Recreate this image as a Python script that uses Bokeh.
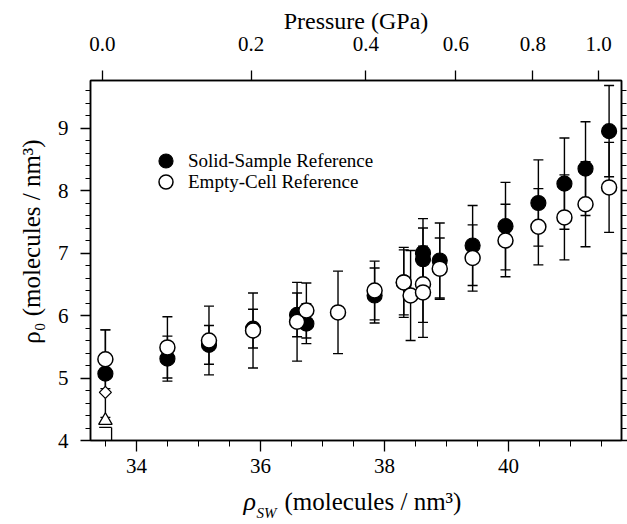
import math
from bokeh.plotting import figure
from bokeh.models import (ColumnDataSource, Whisker, TeeHead, LinearAxis, FixedTicker,
                          SingleIntervalTicker, Range1d, Legend, LegendItem, Label)
from bokeh.embed import file_html
from bokeh.resources import INLINE

# ---------------- data ----------------
solid_rho = [33.50, 34.50, 35.17, 35.88, 36.59, 36.74, 37.84, 38.31, 38.62, 38.62,
             38.89, 39.42, 39.95, 40.48, 40.90, 41.24, 41.62]
solid_rho0 = [5.07, 5.31, 5.53, 5.79, 6.01, 5.87, 6.32, 6.53, 7.00, 6.90,
              6.88, 7.12, 7.43, 7.80, 8.11, 8.35, 8.95]
solid_err = [0.70, 0.36, 0.31, 0.31, 0.35, 0.32, 0.44, 0.52, 0.55, 0.50,
             0.60, 0.64, 0.70, 0.69, 0.73, 0.75, 0.73]

empty_rho = [33.50, 34.50, 35.17, 35.88, 36.59, 36.74, 37.25, 37.84, 38.31, 38.42,
             38.62, 38.62, 38.89, 39.42, 39.95, 40.48, 40.90, 41.24, 41.62]
empty_rho0 = [5.30, 5.49, 5.60, 5.76, 5.90, 6.08, 6.05, 6.40, 6.53, 6.32,
              6.50, 6.37, 6.75, 6.92, 7.20, 7.42, 7.57, 7.78, 8.05]
empty_err = [0.47, 0.49, 0.55, 0.60, 0.63, 0.44, 0.66, 0.47, 0.56, 0.72,
             0.61, 0.72, 0.49, 0.53, 0.58, 0.61, 0.68, 0.68, 0.72]

ambient_rho = [33.50, 33.50]
ambient_rho0 = [4.77, 4.32]
ambient_low = [4.21]

pressure_gpa_labels = ["0.0", "0.2", "0.4", "0.6", "0.8", "1.0"]
pressure_rho_ticks = [33.45, 35.85, 37.70, 39.15, 40.39, 41.45]

# ---------------- geometry ----------------
W, H = 627, 524
FL, FR, FT, FB = 90, 621, 80, 440   # frame edges in canvas px
X0, X1 = 33.26, 41.82
Y0, Y1 = 4.0, 9.76


def dx(px):
    return X0 + (px - FL) * (X1 - X0) / (FR - FL)


def dy(py):
    return Y0 + (FB - py) * (Y1 - Y0) / (FB - FT)


FONT = "Liberation Serif"

p = figure(width=W, height=H, output_backend="svg", toolbar_location=None,
           x_range=Range1d(X0, X1), y_range=Range1d(Y0, Y1))
p.min_border_left = FL
p.min_border_right = W - FR
p.min_border_top = FT
p.min_border_bottom = H - FB
p.xgrid.visible = False
p.ygrid.visible = False
p.outline_line_color = "black"
p.outline_line_width = 1.5
p.background_fill_color = "white"
p.border_fill_color = "white"

p.title.text = "Pressure (GPa)"
p.title.align = "center"
p.title.text_font = FONT
p.title.text_font_size = "24px"
p.title.text_font_style = "normal"
p.title.text_color = "black"
p.title.standoff = 0


def style_axis(ax, tick_out, minor_out, standoff, fs="21px"):
    ax.axis_line_color = "black"
    ax.axis_line_width = 1.5
    ax.major_tick_in = 0
    ax.major_tick_out = tick_out
    ax.minor_tick_in = 0
    ax.minor_tick_out = minor_out
    ax.major_tick_line_color = "black"
    ax.minor_tick_line_color = "black"
    ax.major_tick_line_width = 1.3
    ax.minor_tick_line_width = 1.0
    ax.major_label_text_font = FONT
    ax.major_label_text_font_size = fs
    ax.major_label_text_color = "black"
    ax.major_label_standoff = standoff


xa = p.xaxis[0]
xa.ticker = SingleIntervalTicker(interval=2, num_minor_ticks=4)
style_axis(xa, 11, 6, 7)

ya = p.yaxis[0]
ya.ticker = SingleIntervalTicker(interval=1, num_minor_ticks=5)
style_axis(ya, 10, 5, 12)

ra = LinearAxis(ticker=SingleIntervalTicker(interval=1, num_minor_ticks=5))
style_axis(ra, 6, 5, 0, fs="0px")
p.add_layout(ra, "right")

ta = LinearAxis(ticker=FixedTicker(ticks=pressure_rho_ticks),
                major_label_overrides={r: lab for r, lab in zip(pressure_rho_ticks, pressure_gpa_labels)})
style_axis(ta, 10, 0, 20)
p.add_layout(ta, "above")

# ---------------- error bars ----------------
solid_src = ColumnDataSource(dict(
    x=solid_rho, y=solid_rho0,
    lower=[v - e for v, e in zip(solid_rho0, solid_err)],
    upper=[v + e for v, e in zip(solid_rho0, solid_err)]))
empty_src = ColumnDataSource(dict(
    x=empty_rho, y=empty_rho0,
    lower=[v - e for v, e in zip(empty_rho0, empty_err)],
    upper=[v + e for v, e in zip(empty_rho0, empty_err)]))

for src in (solid_src, empty_src):
    w = Whisker(source=src, base="x", lower="lower", upper="upper", dimension="height",
                line_color="black", line_width=1.4,
                upper_head=TeeHead(size=10, line_color="black", line_width=1.4),
                lower_head=TeeHead(size=10, line_color="black", line_width=1.4))
    p.add_layout(w)

r_solid = p.scatter("x", "y", source=solid_src, marker="circle", size=15,
                    fill_color="black", line_color="black", line_width=1.2)
r_empty = p.scatter("x", "y", source=empty_src, marker="circle", size=15,
                    fill_color="white", line_color="black", line_width=1.5)

# ambient extra symbols
p.scatter([ambient_rho[0]], [ambient_rho0[0]], marker="square", angle=math.pi / 4, size=8.5,
          fill_color="white", line_color="black", line_width=1.3)
p.scatter([ambient_rho[1]], [ambient_rho0[1]], marker="triangle", size=13.5,
          fill_color="white", line_color="black", line_width=1.3)
p.segment(x0=[ambient_rho[1] - 0.1], y0=ambient_low, x1=[ambient_rho[1] + 0.1], y1=ambient_low,
          line_color="black", line_width=1.3)
p.segment(x0=[ambient_rho[1] + 0.1], y0=ambient_low, x1=[ambient_rho[1] + 0.1], y1=[Y0],
          line_color="black", line_width=1.3)

# ---------------- legends ----------------
for lab, rend, loc in (("Solid-Sample Reference", r_solid, (58, 262)),
                       ("Empty-Cell Reference", r_empty, (58, 241))):
    lg = Legend(items=[LegendItem(label=lab, renderers=[rend])], location=loc,
                glyph_width=35, glyph_height=35, padding=0, spacing=0, margin=0,
                label_standoff=5, label_text_font=FONT, label_text_font_size="19px",
                label_text_color="black", border_line_color=None,
                background_fill_alpha=0)
    p.add_layout(lg)


# ---------------- axis titles (side-panel labels, not clipped by the frame) ----------------
def lab(side, text, px, py, size, style="normal", angle=0.0, align="left", baseline="middle"):
    p.add_layout(Label(x=dx(px), y=dy(py), text=text, angle=angle,
                       text_font=FONT, text_font_size=size, text_font_style=style,
                       text_align=align, text_baseline=baseline, text_color="black"), side)


half = math.pi / 2
# y title (one label in the left panel)
lab("left", "\u03c1\u2080 (molecules / nm\u00b3)", 31, 241, "25px", angle=half, align="center")
# x title pieces: italic rho is hosted by the left panel, the rest by the bottom panel
lab("left", "\u03c1", 243, 501, "26px", style="italic")
lab("below", "SW", 256, 512, "15px", style="italic")
lab("below", "(molecules / nm\u00b3)", 284, 501, "25px")

open("out.html", "w").write(file_html(p, INLINE))
